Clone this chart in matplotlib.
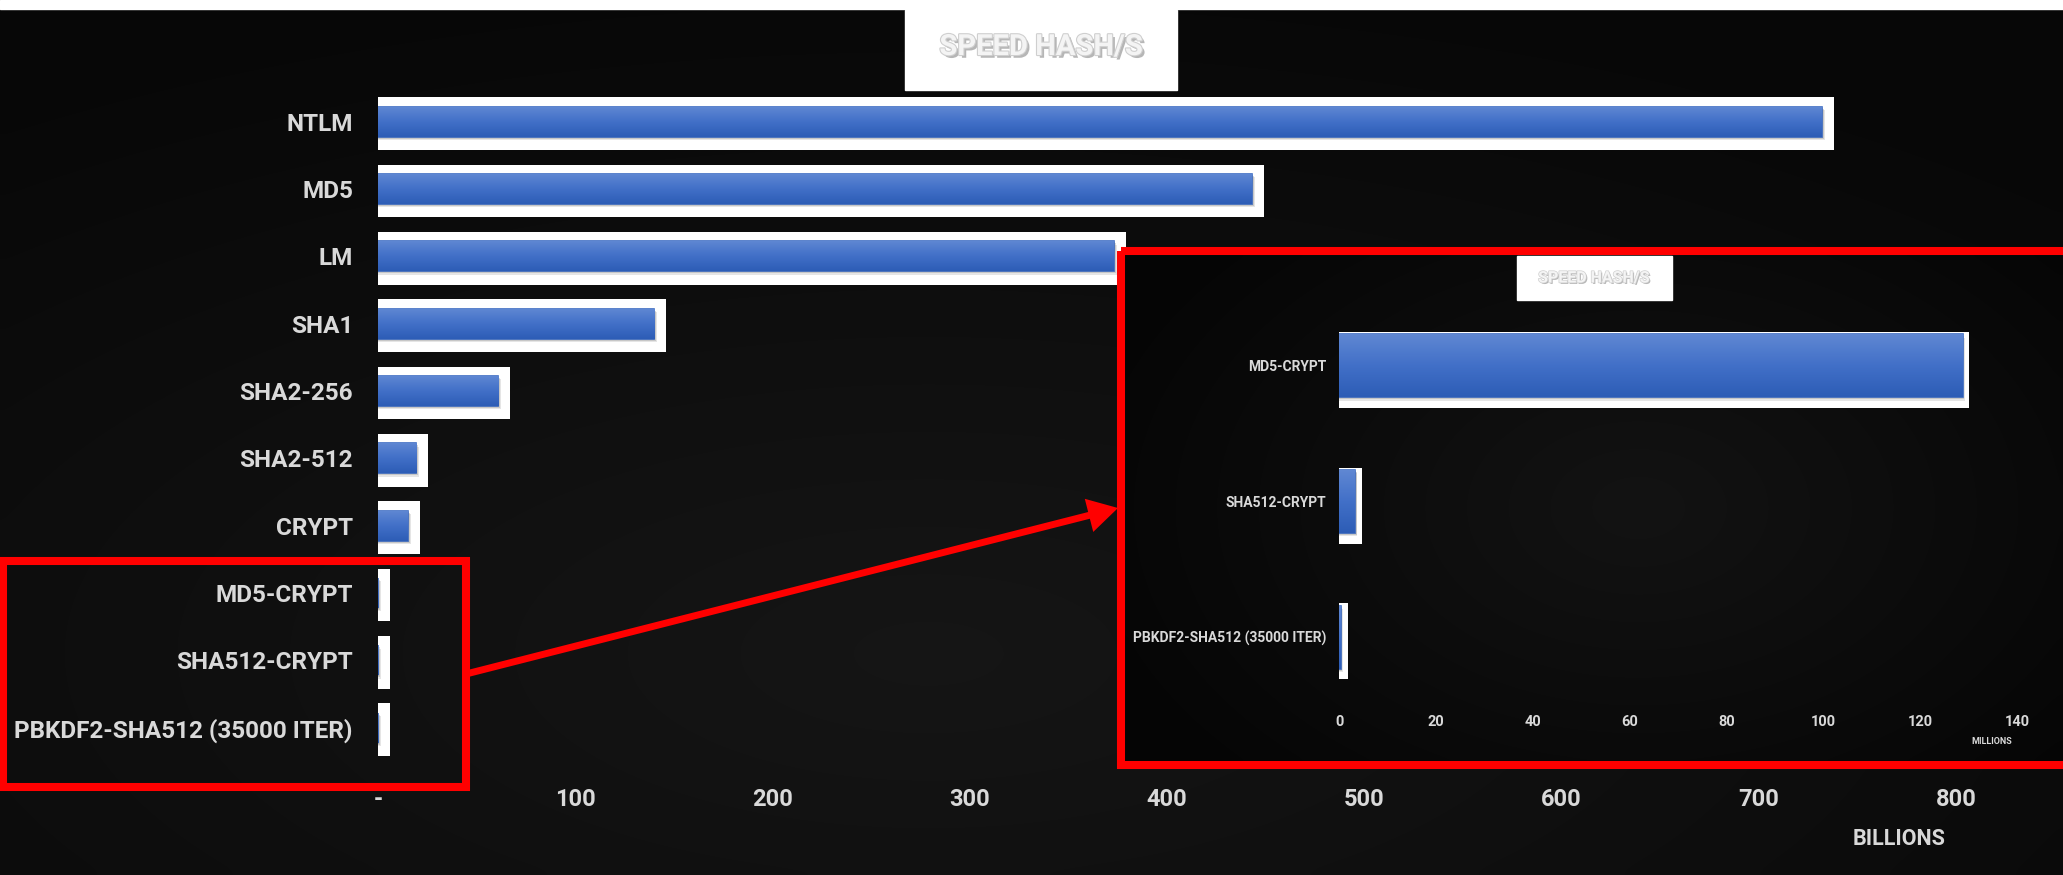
"""Hash cracking speed chart (billions H/s) with a zoomed inset for slow hashes (millions H/s)."""
import numpy as np
import matplotlib
matplotlib.use("Agg")
import matplotlib.pyplot as plt
import matplotlib.patheffects as pe
from matplotlib.colors import LinearSegmentedColormap
from matplotlib.patches import Rectangle, FancyArrowPatch

plt.rcParams["font.family"] = ["Roboto", "DejaVu Sans"]
plt.rcParams["font.weight"] = "bold"

W, H, DPI = 2063, 875, 100

# main chart, billions of hashes per second
HASHES = ["NTLM", "MD5", "LM", "SHA1", "SHA2-256", "SHA2-512", "CRYPT",
          "MD5-CRYPT", "SHA512-CRYPT", "PBKDF2-SHA512 (35000 ITER)"]
SPEED_BILLIONS = [732, 443, 373, 140, 61, 19.3, 15.2, 0.129, 0.0033, 0.00035]
MAIN_TICKS = [0, 100, 200, 300, 400, 500, 600, 700, 800]
MAIN_TICK_LABELS = ["-", "100", "200", "300", "400", "500", "600", "700", "800"]

# inset, millions of hashes per second
SLOW_HASHES = ["MD5-CRYPT", "SHA512-CRYPT", "PBKDF2-SHA512 (35000 ITER)"]
SPEED_MILLIONS = [128.8, 3.3, 0.35]
INSET_TICKS = [0, 20, 40, 60, 80, 100, 120, 140]

LABEL = "#d9d9d9"
RED = "#ff0000"
BLUE_CMAP = LinearSegmentedColormap.from_list("bar", ["#6088d3", "#4270c8", "#2d5db6"])
GRAD = np.linspace(0, 1, 64).reshape(-1, 1)


def fancy_bars(ax, values, bar_h, plate_h, pad, shadow, min_px):
    y = np.arange(len(values))
    v = np.asarray(values, dtype=float)
    # white plate behind each bar
    ax.barh(y + 0.03, v + pad, height=plate_h, color="white", zorder=1)
    # soft drop shadow (a few px wide even for tiny bars)
    for k, a in ((1.0, 0.18), (0.6, 0.25), (0.3, 0.3)):
        ax.barh(y + shadow * k, v + min_px * k, height=bar_h, color="#6f6f6f",
                alpha=a, zorder=2, linewidth=0)
    # thin same-colour edge keeps hairline bars visible, as Excel does
    bars = ax.barh(y, v, height=bar_h, color="#4472c4", edgecolor="#3d6cc2",
                   linewidth=1.2, zorder=3)
    for b in bars:
        x0, y0, w, h = b.get_x(), b.get_y(), b.get_width(), b.get_height()
        im = ax.imshow(GRAD, extent=(x0, x0 + w, y0 + h, y0), aspect="auto",
                       cmap=BLUE_CMAP, zorder=4, interpolation="bilinear")
        im.set_clip_path(b)
    return y


def radial(nx, ny, cx, cy, inner, outer, scale):
    xx, yy = np.meshgrid(np.linspace(0, 1, nx), np.linspace(0, 1, ny))
    d = np.clip(np.hypot((xx - cx) * scale[0], (yy - cy) * scale[1]), 0, 1)
    g = inner + (outer - inner) * d
    return np.dstack([g, g, g])


fig = plt.figure(figsize=(W / DPI, H / DPI), dpi=DPI, facecolor="#101010")

# background layer
bg = fig.add_axes([0, 0, 1, 1], zorder=0)
bg.axis("off")
bg.imshow(radial(200, 90, 0.45, 0.75, 0.085, 0.03, (1.3, 1.3)),
          extent=(0, W, H, 0), aspect="auto", interpolation="bicubic")
bg.add_patch(Rectangle((0, 0), W, 9, color="white"))
bg.set_xlim(0, W)
bg.set_ylim(H, 0)

# main chart
x0_px, px_per_unit = 378, 1.9725
ax = fig.add_axes([x0_px / W, 1 - 761.3 / H, (W - x0_px) / W, 673.3 / H], zorder=1)
ax.set_facecolor("none")
y = fancy_bars(ax, SPEED_BILLIONS, 0.446, 0.78, 6.1, 0.05, 1.6)
ax.set_xlim(0, (W - x0_px) / px_per_unit)
ax.set_ylim(len(HASHES) - 0.5, -0.5)
ax.set_yticks(y)
ax.set_yticklabels(HASHES, fontsize=17.5, color=LABEL, fontweight="bold")
ax.set_xticks(MAIN_TICKS)
ax.set_xticklabels(MAIN_TICK_LABELS, fontsize=17, color=LABEL, fontweight="bold")
ax.tick_params(axis="y", length=0, pad=18)
ax.tick_params(axis="x", length=0, pad=19)
for s in ax.spines.values():
    s.set_visible(False)
fig.text(1899 / W, 1 - 839 / H, "BILLIONS", ha="center", va="center",
         fontsize=15.5, color=LABEL, fontweight="bold")

# overlay: inset panel, title boxes, red callouts
ov = fig.add_axes([0, 0, 1, 1], zorder=2)
ov.set_facecolor("none")
ov.axis("off")
ov.imshow(radial(120, 60, 0.55, 0.5, 0.075, 0.02, (1.6, 1.3)),
          extent=(1121, W, 765, 251), aspect="auto", interpolation="bicubic", zorder=1)
ov.add_patch(Rectangle((905, 10), 272, 80, color="white", zorder=2))
ov.add_patch(Rectangle((1517, 256), 155, 44, color="white", zorder=2))
ov.add_patch(Rectangle((1121, 251), 1000, 514, fill=False, edgecolor=RED,
                       linewidth=5.8, joinstyle="miter", zorder=5))
ov.add_patch(Rectangle((3, 561), 463, 226, fill=False, edgecolor=RED,
                       linewidth=5.8, joinstyle="miter", zorder=5))
ov.add_patch(FancyArrowPatch((466, 674), (1118, 508),
                             arrowstyle="-|>,head_length=0.7,head_width=0.4",
                             mutation_scale=20, linewidth=5, color=RED,
                             shrinkA=0, shrinkB=0, joinstyle="miter",
                             capstyle="butt", zorder=6))
title_fx = [pe.SimplePatchShadow(offset=(2, -2), shadow_rgbFace="#7a7a7a", alpha=0.55),
            pe.Stroke(linewidth=1.6, foreground="#cfcfcf"), pe.Normal()]
ov.text(1041, 47, "SPEED HASH/S", ha="center", va="center", fontsize=21,
        color="#f4f4f4", fontweight="bold", path_effects=title_fx, zorder=3)
title_fx_small = [pe.SimplePatchShadow(offset=(1, -1), shadow_rgbFace="#7a7a7a", alpha=0.55),
                  pe.Stroke(linewidth=1.0, foreground="#cfcfcf"), pe.Normal()]
ov.text(1594, 278, "SPEED HASH/S", ha="center", va="center", fontsize=11.5,
        color="#f4f4f4", fontweight="bold", path_effects=title_fx_small, zorder=3)
ov.set_xlim(0, W)
ov.set_ylim(H, 0)

# inset chart
ix0_px, ipx_per_unit = 1339.4, 4.84
ax2 = fig.add_axes([ix0_px / W, 1 - 705 / H, (W - ix0_px) / W, 407 / H], zorder=3)
ax2.set_facecolor("none")
y2 = fancy_bars(ax2, SPEED_MILLIONS, 0.465, 0.56, 1.35, 0.025, 0.4)
ax2.set_xlim(0, (W - ix0_px) / ipx_per_unit)
ax2.set_ylim(len(SLOW_HASHES) - 0.5, -0.5)
ax2.set_yticks(y2)
ax2.set_yticklabels(SLOW_HASHES, fontsize=10, color=LABEL, fontweight="bold")
ax2.set_xticks(INSET_TICKS)
ax2.set_xticklabels([str(t) for t in INSET_TICKS], fontsize=10.5, color=LABEL,
                    fontweight="bold")
ax2.tick_params(axis="y", length=0, pad=9.6)
ax2.tick_params(axis="x", length=0, pad=7.5)
for s in ax2.spines.values():
    s.set_visible(False)
fig.text(1992 / W, 1 - 742 / H, "MILLIONS", ha="center", va="center",
         fontsize=6.5, color=LABEL, fontweight="bold")

fig.savefig("out.png", dpi=DPI, facecolor=fig.get_facecolor())
